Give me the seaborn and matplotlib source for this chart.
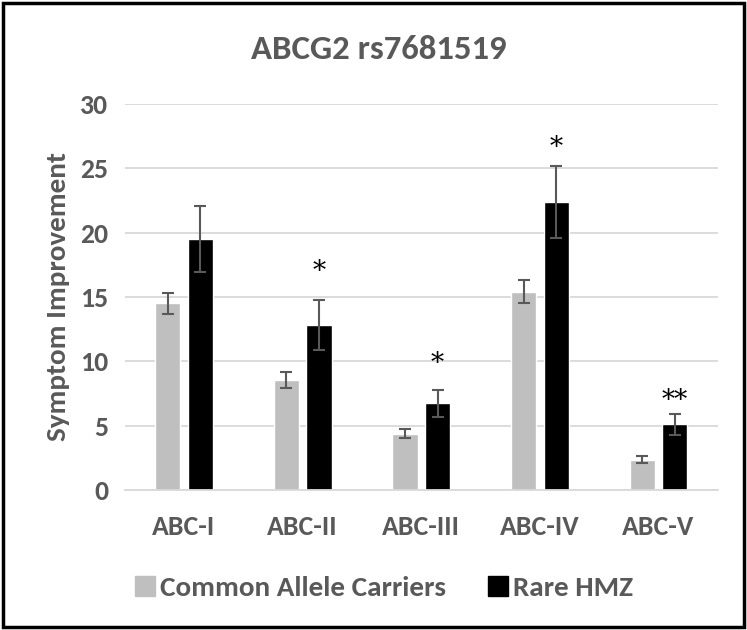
import matplotlib
matplotlib.use("Agg")
import matplotlib.pyplot as plt
import seaborn as sns
import pandas as pd
from matplotlib.patches import Rectangle

categories = ["ABC-I", "ABC-II", "ABC-III", "ABC-IV", "ABC-V"]
groups = ["Common Allele Carriers", "Rare HMZ"]
common_vals = [14.5, 8.55, 4.37, 15.4, 2.38]
common_err = [0.8, 0.62, 0.35, 0.9, 0.26]
rare_vals = [19.5, 12.85, 6.75, 22.35, 5.1]
rare_err = [2.55, 1.95, 1.05, 2.8, 0.8]
signif = ["", "*", "*", "*", "**"]
signif_y = [None, 17.0, 9.8, 26.6, 7.0]
yticks = [0, 5, 10, 15, 20, 25, 30]

sns.set_theme(style="white")
plt.rcParams["font.family"] = ["Carlito", "Open Sans", "DejaVu Sans"]
txt = "#595959"

df = pd.DataFrame({
    "cat": categories * 2,
    "group": [groups[0]] * 5 + [groups[1]] * 5,
    "val": common_vals + rare_vals,
})

fig = plt.figure(figsize=(7.47, 6.3), dpi=100)
ax = fig.add_axes([0.167, 0.222, 0.794, 0.613])
sns.barplot(data=df, x="cat", y="val", hue="group", order=categories,
            hue_order=groups, palette=["#bfbfbf", "#000000"], width=0.55,
            gap=0.23, errorbar=None, ax=ax, legend=True, saturation=1)

errs = [common_err, rare_err]
vals = [common_vals, rare_vals]
bar_containers = list(ax.containers)
for ci, cont in enumerate(bar_containers):
    for bi, bar in enumerate(cont):
        xc = bar.get_x() + bar.get_width() / 2
        ax.errorbar(xc, vals[ci][bi], yerr=errs[ci][bi], color="#595959",
                    capsize=4.5, elinewidth=1.5, capthick=1.5, zorder=5)
        if ci == 1 and signif[bi]:
            ax.text(xc, signif_y[bi], signif[bi],
                    ha="center", va="center", fontsize=19, color="black",
                    family=["DejaVu Serif"])

ax.set_ylim(0, 30)
ax.set_xlim(-0.5, 4.5)
ax.set_yticks(yticks)
ax.set_yticklabels([str(t) for t in yticks])
ax.yaxis.grid(True, color="#d9d9d9", linewidth=1.3)
ax.set_axisbelow(True)
for s in ["top", "right", "left"]:
    ax.spines[s].set_visible(False)
ax.spines["bottom"].set_color("#d9d9d9")
ax.spines["bottom"].set_linewidth(1.3)
ax.tick_params(axis="y", length=0, labelsize=20, labelcolor=txt, pad=12)
ax.tick_params(axis="x", length=0, labelsize=20, labelcolor=txt, pad=18)
for lab in ax.get_xticklabels() + ax.get_yticklabels():
    lab.set_fontweight("bold")
ax.set_xlabel("")
ax.set_ylabel("Symptom Improvement", fontsize=21, fontweight="bold", color=txt)
ax.yaxis.set_label_coords(-0.092, 0.5)

fig.text(0.507, 0.906, "ABCG2 rs7681519", ha="center", va="baseline",
         fontsize=25, fontweight="bold", color=txt)

ax.get_legend().remove()
handles = [Rectangle((0, 0), 1, 1, color="#bfbfbf"),
           Rectangle((0, 0), 1, 1, color="#000000")]
leg = fig.legend(handles, groups, loc="center", bbox_to_anchor=(0.514, 0.067),
                 ncol=2, frameon=False, handlelength=0.69, handleheight=0.69,
                 handletextpad=0.17, columnspacing=1.45, borderpad=0,
                 prop={"size": 21, "weight": "bold"})
for t in leg.get_texts():
    t.set_color(txt)

fig.patches.append(Rectangle((0.004, 0.005), 0.992, 0.99, transform=fig.transFigure,
                             fill=False, edgecolor="black", linewidth=2.5))

fig.savefig("out.png", dpi=100)
